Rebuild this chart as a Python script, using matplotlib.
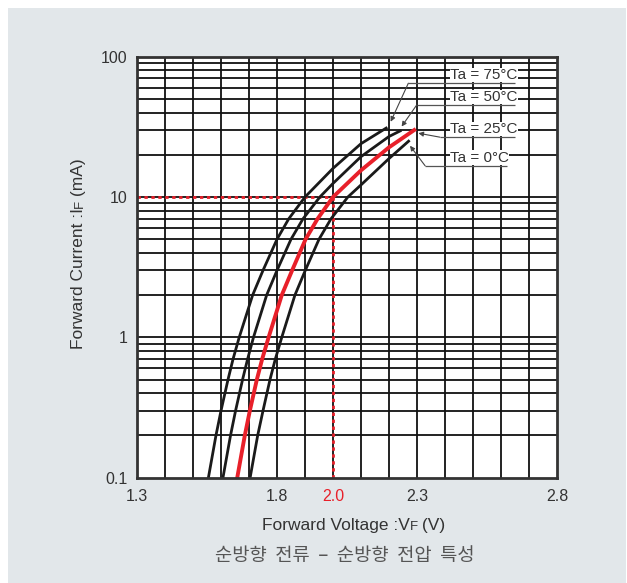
import numpy as np
import matplotlib.pyplot as plt
from matplotlib.patches import Rectangle

# Forward voltage (V) / forward current (mA), per temperature
vf_75 = [1.555, 1.582, 1.600, 1.625, 1.643, 1.665, 1.713, 1.750, 1.800, 1.842,
         1.900, 2.000, 2.100, 2.190]
if_75 = [0.1, 0.2, 0.3, 0.5, 0.7, 1, 2, 3, 5, 7, 10, 16, 24, 31]

vf_50 = [1.607, 1.634, 1.652, 1.677, 1.695, 1.716, 1.763, 1.800, 1.850, 1.893,
         1.953, 2.000, 2.100, 2.200, 2.240]
if_50 = [0.1, 0.2, 0.3, 0.5, 0.7, 1, 2, 3, 5, 7, 10, 12.5, 19.4, 27, 29.6]

vf_25 = [1.658, 1.685, 1.703, 1.728, 1.747, 1.770, 1.817, 1.854, 1.902, 1.945,
         2.000, 2.100, 2.200, 2.290]
if_25 = [0.1, 0.2, 0.3, 0.5, 0.7, 1, 2, 3, 5, 7, 10, 15.5, 22.6, 30]

vf_0 = [1.704, 1.731, 1.750, 1.775, 1.794, 1.817, 1.864, 1.901, 1.950, 1.993,
        2.053, 2.100, 2.200, 2.270]
if_0 = [0.1, 0.2, 0.3, 0.5, 0.7, 1, 2, 3, 5, 7, 10, 12.2, 18.8, 25]

xticks = [1.3, 1.8, 2.0, 2.3, 2.8]
xtick_labels = ['1.3', '1.8', '2.0', '2.3', '2.8']
yticks = [0.1, 1, 10, 100]
ytick_labels = ['0.1', '1', '10', '100']

# label text, underline (x0, x1, y), arrow tip (x, y) in data coords
labels = [
    ('Ta = 75°C', 2.269, 2.650, 64.7, 2.206, 34.4),
    ('Ta = 50°C', 2.299, 2.650, 45.3, 2.245, 31.8),
    ('Ta = 25°C', 2.382, 2.650, 26.7, 2.305, 28.5),
    ('Ta = 0°C', 2.329, 2.621, 16.7, 2.275, 23.2),
]

plt.rcParams['font.family'] = ['Liberation Sans', 'DejaVu Sans']
txt_col = '#333333'
red = '#e8202a'

fig = plt.figure(figsize=(6.27, 5.83), dpi=100)
fig.patch.set_facecolor('white')
fig.patches.append(Rectangle((8 / 627, 0), 1 - 9 / 627, 1 - 8 / 583,
                             transform=fig.transFigure, facecolor='#e2e7ea',
                             edgecolor='none', zorder=-10))

ax = fig.add_axes([137 / 627, 1 - 477.7 / 583, 420 / 627, 421 / 583])
ax.set_facecolor('white')
ax.set_yscale('log')
ax.set_xlim(1.3, 2.8)
ax.set_ylim(0.1, 100)

# grid: every 0.1 V and every 1..9 of each decade
for v in np.arange(1.4, 2.75, 0.1):
    ax.axvline(v, color='#111111', lw=1.3, zorder=1)
for dec in [0.1, 1, 10]:
    for m in range(1, 10):
        if dec * m > 0.1:
            ax.axhline(dec * m, color='#111111', lw=1.3, zorder=1)

# reference lines at 2.0 V / 10 mA
ax.plot([1.3, 2.0], [10, 10], color=red, lw=2, ls=(0, (1.2, 1.3)), zorder=3)
ax.plot([2.0, 2.0], [0.1, 10], color=red, lw=2, ls=(0, (1.2, 1.3)), zorder=3)

ax.plot(vf_75, if_75, color='#1a1a1a', lw=2, zorder=4)
ax.plot(vf_50, if_50, color='#1a1a1a', lw=2, zorder=4)
ax.plot(vf_0, if_0, color='#1a1a1a', lw=2, zorder=4)
ax.plot(vf_25, if_25, color=red, lw=2.8, zorder=5)

for txt, x0, x1, yl, xt, yt in labels:
    ax.plot([x0, x1], [yl, yl], color='#555555', lw=0.9, zorder=6,
            solid_capstyle='butt')
    ax.text(2.418, yl * 1.07, txt, fontsize=11, color=txt_col,
            ha='left', va='baseline', zorder=7,
            bbox=dict(facecolor='white', edgecolor='none', pad=0.2))
    ax.annotate('', xy=(xt, yt), xytext=(x0, yl),
                arrowprops=dict(arrowstyle='-|>', color='#444444', lw=0.8,
                                mutation_scale=7, shrinkA=0, shrinkB=0),
                zorder=6)

for s in ax.spines.values():
    s.set_linewidth(2)
    s.set_color('#333333')
    s.set_zorder(8)

ax.set_xticks(xticks)
ax.set_xticklabels(xtick_labels)
ax.set_yticks(yticks)
ax.set_yticklabels(ytick_labels)
ax.yaxis.set_minor_locator(plt.NullLocator())
ax.tick_params(length=0, labelsize=11.5, colors=txt_col)
ax.tick_params(axis='x', pad=8)
ax.tick_params(axis='y', pad=7)
ax.get_xticklabels()[2].set_color(red)

# x label with small F
xb = 1 - 530 / 583
fig.text(410 / 627, xb, 'Forward Voltage :V', fontsize=12.5, color=txt_col,
         ha='right', va='baseline')
fig.text(410 / 627, xb, 'F', fontsize=9.5, color=txt_col, ha='left',
         va='baseline')
fig.text(417 / 627, xb, ' (V)', fontsize=12.5, color=txt_col, ha='left',
         va='baseline')

# y label with small F
yx = 86 / 627
yb = 1 - 208 / 583
fig.text(yx, yb, 'Forward Current :I', fontsize=12.5, color=txt_col,
         rotation=90, ha='right', va='top')
fig.text(yx, yb, 'F', fontsize=9.5, color=txt_col, rotation=90,
         ha='right', va='bottom')
fig.text(yx, yb + 7 / 583, ' (mA)', fontsize=12.5, color=txt_col,
         rotation=90, ha='right', va='bottom')

fig.text(345 / 627, 1 - 555 / 583, '순방향  전류  –  순방향  전압  특성',
         fontsize=13.5, color='#555555', ha='center', va='center',
         family=['Noto Sans CJK KR', 'DejaVu Sans'])

fig.savefig('out.png', dpi=100, facecolor=fig.get_facecolor())
